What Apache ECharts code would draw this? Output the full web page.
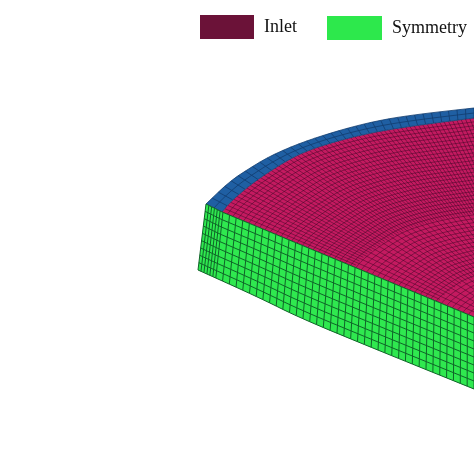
<!DOCTYPE html>
<html>
<head>
<meta charset="utf-8">
<style>html,body{margin:0;padding:0;background:#fff}#chart{width:474px;height:474px;filter:blur(0.45px)}</style>
<script src="https://cdn.jsdelivr.net/npm/echarts@6/dist/echarts.min.js"></script>
</head>
<body>
<div id="chart"></div>
<script>
// outlines, in picture coordinates
const innerArcX = [222, 230, 250, 270, 300, 340, 380, 420, 474];
const innerArcY = [212, 202, 185, 171, 153, 140, 131, 125, 118];
const outerArcX = [206, 230, 250, 270, 300, 340, 380, 420, 474];
const outerArcY = [204, 181, 168, 156, 143, 130, 120, 114, 108];
const frontTopX = [206, 222, 474];
const frontTopY = [204, 212, 317];
const frontBottomX = [198, 260, 300, 380, 474];
const frontBottomY = [270, 298, 318, 351, 389];
const discCenter = [570, 357];

// mesh counts
const spokeCount = 64;
const wallCells = 34;
const wallLayers = 2;
const ringCount = 52;
const frontRows = 9;
const frontColumnsDense = 6;
const frontColumns = 38;

const legendNames = ['Inlet', 'Symmetry'];

function pts(xs, ys) { return xs.map((x, i) => [x, ys[i]]); }
function mix(a, b, t) { return [a[0] + (b[0] - a[0]) * t, a[1] + (b[1] - a[1]) * t]; }

// rounds the corners of a hand read outline, ends stay where they are
function rounded(line, times) {
  let out = line;
  for (let n = 0; n < times; n++) {
    let next = [out[0]];
    for (let i = 0; i < out.length - 1; i++) {
      next.push(mix(out[i], out[i + 1], 0.25), mix(out[i], out[i + 1], 0.75));
    }
    next.push(out[out.length - 1]);
    out = next;
  }
  return out;
}

// point at fraction f of a polyline's length
function along(line, f) {
  let lens = [], total = 0;
  for (let i = 1; i < line.length; i++) {
    let l = Math.hypot(line[i][0] - line[i - 1][0], line[i][1] - line[i - 1][1]);
    lens.push(l);
    total += l;
  }
  let d = f * total;
  for (let i = 0; i < lens.length; i++) {
    if (d <= lens[i] || i == lens.length - 1) return mix(line[i], line[i + 1], d / lens[i]);
    d -= lens[i];
  }
}

const innerArc = rounded(pts(innerArcX, innerArcY), 3);
const outerArc = rounded(pts(outerArcX, outerArcY), 3);
const frontTop = pts(frontTopX, frontTopY);
const frontBottom = rounded(pts(frontBottomX, frontBottomY), 2);

// inlet face: rings shrink to the centre, spokes thin out as they get closer
let inletLines = [];
for (let r = 1; r < ringCount; r++) {
  let t = r / ringCount;
  inletLines.push(innerArc.map(p => mix(p, discCenter, t * 0.8)));
}
for (let s = 0; s <= spokeCount; s++) {
  let a = along(innerArc, s / spokeCount);
  let end = s % 4 == 0 ? 0.85 : (s % 2 == 0 ? 0.62 : 0.38);
  inletLines.push([a, mix(a, discCenter, end)]);
}

// outer wall strip
let wallLines = [];
for (let l = 0; l <= wallLayers; l++) {
  let line = [];
  for (let c = 0; c <= wallCells; c++) {
    line.push(mix(along(outerArc, c / wallCells), along(innerArc, c / wallCells), l / wallLayers));
  }
  wallLines.push(line);
}
for (let c = 0; c <= wallCells; c++) {
  wallLines.push([along(outerArc, c / wallCells), along(innerArc, c / wallCells)]);
}

// symmetry face: narrow columns at the rounded corner, then regular ones
let columnFractions = [];
let denseEnd = 0.065;
for (let c = 0; c < frontColumnsDense; c++) columnFractions.push(denseEnd * c / frontColumnsDense);
for (let c = 0; c <= frontColumns; c++) columnFractions.push(denseEnd + (1 - denseEnd) * c / frontColumns);

let frontLines = [];
columnFractions.forEach(f => {
  frontLines.push([along(frontTop, f), along(frontBottom, f)]);
});
for (let r = 0; r <= frontRows; r++) {
  frontLines.push(columnFractions.map(f => mix(along(frontTop, f), along(frontBottom, f), r / frontRows)));
}

function renderMesh(lines, color, width) {
  return function (params, api) {
    return {
      type: 'polyline',
      shape: { points: lines[params.dataIndex].map(p => api.coord(p)) },
      style: { fill: null, stroke: color, lineWidth: width }
    };
  };
}

function renderFill(outline, color) {
  return function (params, api) {
    return {
      type: 'polygon',
      shape: { points: outline.map(p => api.coord(p)) },
      style: { fill: color }
    };
  };
}

function meshSeries(name, lines, legendColor, color, width, z) {
  return {
    name: name,
    type: 'custom',
    coordinateSystem: 'cartesian2d',
    clip: true,
    silent: true,
    z: z,
    itemStyle: { color: legendColor },
    encode: { x: 0, y: 1 },
    data: lines.map(l => l[0]),
    renderItem: renderMesh(lines, color, width)
  };
}

function fillSeries(name, outline, legendColor, color, z) {
  return {
    name: name,
    type: 'custom',
    coordinateSystem: 'cartesian2d',
    clip: true,
    silent: true,
    z: z,
    itemStyle: { color: legendColor },
    encode: { x: 0, y: 1 },
    data: [outline[0]],
    renderItem: renderFill(outline, color)
  };
}

const inletOutline = innerArc.concat([discCenter]);
const wallOutline = outerArc.concat(innerArc.slice().reverse());
const frontOutline = frontTop.concat(frontBottom.slice().reverse());

const legendText = { fontFamily: 'Liberation Serif', fontSize: 18, color: '#111', padding: [0, 0, 0, 5] };

let myChart = echarts.init(document.getElementById('chart'));
myChart.setOption({
  animation: false,
  backgroundColor: '#fff',
  grid: { left: 0, right: 0, top: 0, bottom: 0 },
  xAxis: { type: 'value', min: 0, max: 474, show: false },
  yAxis: { type: 'value', min: 0, max: 474, inverse: true, show: false },
  legend: [
    { left: 195, top: 10, itemWidth: 54, itemHeight: 24, icon: 'rect', selectedMode: false, data: [legendNames[0]], textStyle: legendText },
    { left: 322, top: 11, itemWidth: 55, itemHeight: 24, icon: 'rect', selectedMode: false, data: [legendNames[1]], textStyle: legendText }
  ],
  series: [
    fillSeries('Inlet', inletOutline, '#6b1238', '#c41a60', 2),
    meshSeries('Inlet mesh', inletLines, '#6b1238', 'rgba(60,6,36,0.62)', 0.8, 3),
    fillSeries('Wall', wallOutline, '#1f5c9e', '#1f5fa3', 4),
    meshSeries('Wall mesh', wallLines, '#1f5c9e', '#123c6e', 0.8, 5),
    fillSeries('Symmetry', frontOutline, '#2de84c', '#2fe84f', 6),
    meshSeries('Symmetry mesh', frontLines, '#2de84c', '#0f6428', 1, 7)
  ]
});
</script>
</body>
</html>
